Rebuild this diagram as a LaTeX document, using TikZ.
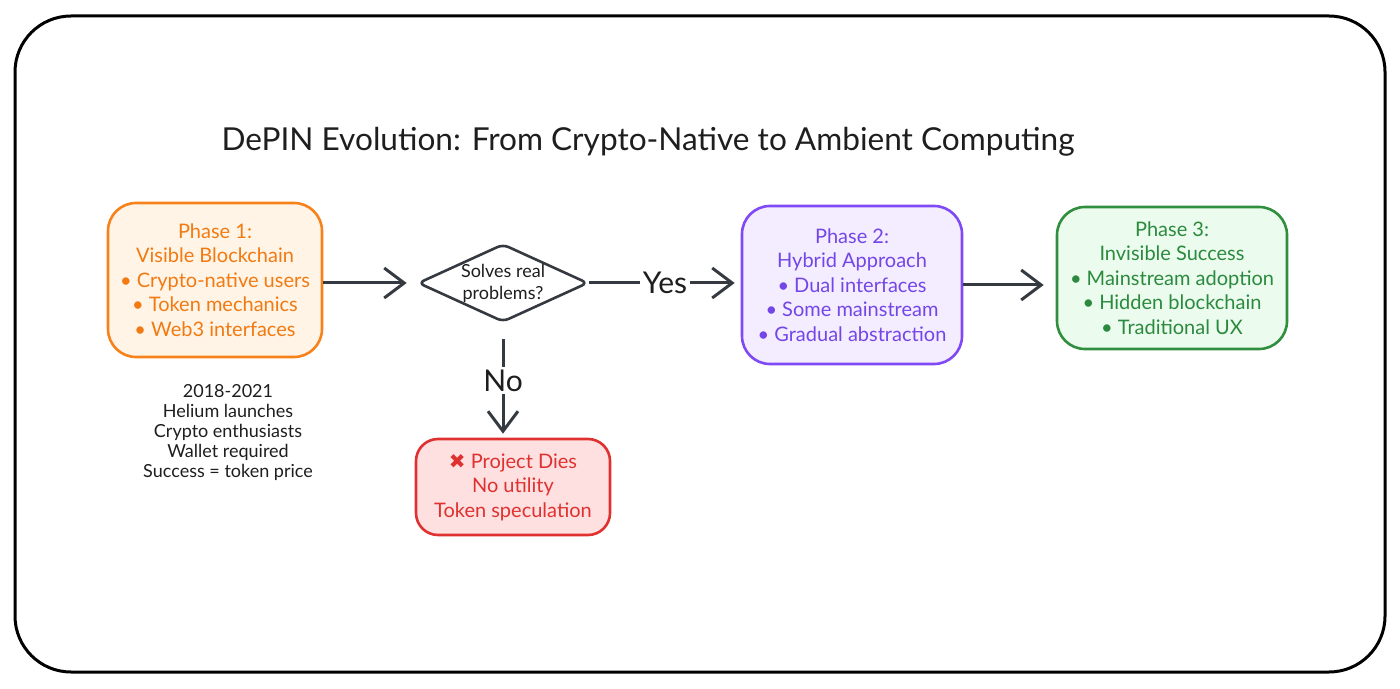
\documentclass[tikz,border=0pt]{standalone}
\usepackage{fontspec}
\setmainfont{Lato}
\newfontfamily\symfont{DejaVu Sans}
\usepackage{xcolor}
\usetikzlibrary{positioning,arrows.meta,shapes.geometric}
\definecolor{ink}{HTML}{1E1E1E}
\definecolor{arrgray}{HTML}{343A40}
\definecolor{orStroke}{HTML}{F7821B}
\definecolor{orFill}{HTML}{FFF4E6}
\definecolor{orText}{HTML}{F27A12}
\definecolor{puStroke}{HTML}{8149F5}
\definecolor{puFill}{HTML}{F3EDFF}
\definecolor{puText}{HTML}{7446E8}
\definecolor{grStroke}{HTML}{2F8F3E}
\definecolor{grFill}{HTML}{EBFBEE}
\definecolor{grText}{HTML}{2B8A3E}
\definecolor{rdStroke}{HTML}{E03131}
\definecolor{rdFill}{HTML}{FFE0E0}
\definecolor{rdText}{HTML}{E03131}
\tikzset{
  frame/.style={draw=black, line width=1.5pt, rounded corners=28pt},
  phase/.style={rounded corners=14pt, line width=1.3pt, align=center, font=\fontsize{10}{12.25}\selectfont},
  p1box/.style={phase, draw=orStroke, fill=orFill, text=orText, minimum width=107pt, minimum height=77pt},
  p2box/.style={phase, draw=puStroke, fill=puFill, text=puText, minimum width=110pt, minimum height=79pt},
  p3box/.style={phase, draw=grStroke, fill=grFill, text=grText, minimum width=115pt, minimum height=71pt},
  deadbox/.style={phase, draw=rdStroke, fill=rdFill, text=rdText, minimum width=97pt, minimum height=48pt, rounded corners=11pt},
  dec/.style={diamond, draw=arrgray, fill=white, line width=1.3pt, aspect=2.2, minimum width=85pt, minimum height=39pt, inner sep=0pt, align=center, font=\fontsize{9}{11}\selectfont, text=ink, rounded corners=3pt},
  arr/.style={draw=arrgray, line width=1.5pt, -{Straight Barb[length=10pt,width=15pt]}},
  lbl/.style={fill=white, inner sep=1.5pt, font=\fontsize{15}{18}\selectfont, text=ink},
  note/.style={align=center, font=\fontsize{9}{10}\selectfont, text=ink}
}

\begin{document}
\begin{tikzpicture}[x=0.5pt, y=-0.5pt]
  \useasboundingbox (0,0) rectangle (1400,689);
  % Outer frame
  \draw[frame] (15,16) rectangle (1385,672);

  % Title
  \node[font=\fontsize{15.8}{19}\selectfont, text=ink] (title) at (648,142) {DePIN Evolution: From Crypto-Native to Ambient Computing};

  % Phase boxes
  \node[p1box] (p1) at (215,280) {Phase 1:\\Visible Blockchain\\• Crypto-native users\\• Token mechanics\\• Web3 interfaces};
  \node[p2box] (p2) at (852,285) {Phase 2:\\Hybrid Approach\\• Dual interfaces\\• Some mainstream\\• Gradual abstraction};
  \node[p3box] (p3) at (1172,278) {Phase 3:\\Invisible Success\\• Mainstream adoption\\• Hidden blockchain\\• Traditional UX};

  % Decision and dead end
  \node[dec] (dec) at (503,283) {Solves real\\problems?};
  \node[deadbox] (dead) at (513,487) {{\symfont\textcolor{rdStroke}{✖}} Project Dies\\No utility\\Token speculation};

  % Phase 1 notes
  \node[note] (notes) at (228,433) {2018-2021\\Helium launches\\Crypto enthusiasts\\Wallet required\\Success = token price};

  % Connectors
  \draw[arr, shorten >=5pt] (p1.east |- dec.west) -- (dec.west);
  \draw[arr, shorten >=3pt] (dec.east) -- (dec.east -| p2.west) node[lbl, midway] {Yes};
  \draw[arr, shorten <=8pt, shorten >=2pt] (dec.south) -- (dec.south |- dead.north) node[lbl, midway] {No};
  \draw[arr, shorten >=6pt] (p2.east) -- (p2.east -| p3.west);
\end{tikzpicture}
\end{document}
